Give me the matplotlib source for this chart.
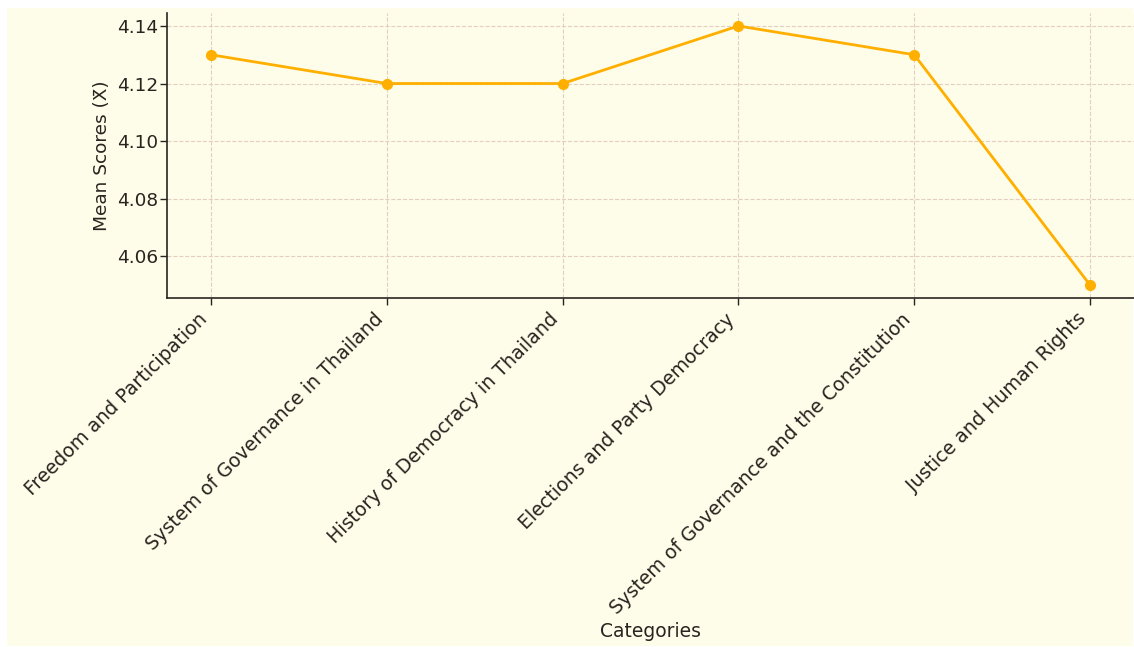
import matplotlib
matplotlib.use("Agg")
import matplotlib.pyplot as plt
from matplotlib.patches import Rectangle

categories = [
    "Freedom and Participation",
    "System of Governance in Thailand",
    "History of Democracy in Thailand",
    "Elections and Party Democracy",
    "System of Governance and the Constitution",
    "Justice and Human Rights",
]
mean_scores = [4.13, 4.12, 4.12, 4.14, 4.13, 4.05]

bg = "#fefde9"
txt = "#2a2420"
line_col = "#ffaf00"

plt.rcParams["font.family"] = "DejaVu Sans"
plt.rcParams["text.color"] = txt
plt.rcParams["axes.labelcolor"] = txt
plt.rcParams["xtick.color"] = txt
plt.rcParams["ytick.color"] = txt

fig = plt.figure(figsize=(11.34, 6.47), dpi=100)
fig.patch.set_facecolor("white")
# yellow panel (the original is cropped, leaving a thin white margin)
fig.patches.append(Rectangle((7 / 1134, 1 / 647), 1126 / 1134, 638 / 647,
                             transform=fig.transFigure, facecolor=bg,
                             edgecolor="none", zorder=-10))

ax = fig.add_axes([167 / 1134, 1 - 298 / 647, 1 - 167 / 1134, (298 - 13) / 647])
ax.set_zorder(5)
ax.set_facecolor(bg)

x = range(len(categories))
ax.plot(x, mean_scores, color=line_col, linewidth=2, marker="o", markersize=7)

ax.set_xticks(list(x))
ax.set_xticklabels(categories, rotation=45, ha="right", fontsize=13.7)
ax.set_yticks([4.06, 4.08, 4.10, 4.12, 4.14])
ax.set_yticklabels(["4.06", "4.08", "4.10", "4.12", "4.14"], fontsize=13.3)
ax.set_xlim(-0.25, 5.25)
ax.set_ylim(4.0455, 4.1445)

ax.set_xlabel("Categories", fontsize=13.5, labelpad=3)
ax.set_ylabel("Mean Scores (X\u0304)", fontsize=13.3)

ax.grid(True, linestyle="--", color="#e3cfc0", linewidth=0.8)
ax.set_axisbelow(True)
for s in ["top", "right"]:
    ax.spines[s].set_visible(False)
for s in ["left", "bottom"]:
    ax.spines[s].set_color(txt)
    ax.spines[s].set_linewidth(1.2)
ax.tick_params(length=5, width=1)
ax.tick_params(axis="y", pad=1.5)

fig.savefig("out.png", dpi=100, facecolor=fig.get_facecolor())
